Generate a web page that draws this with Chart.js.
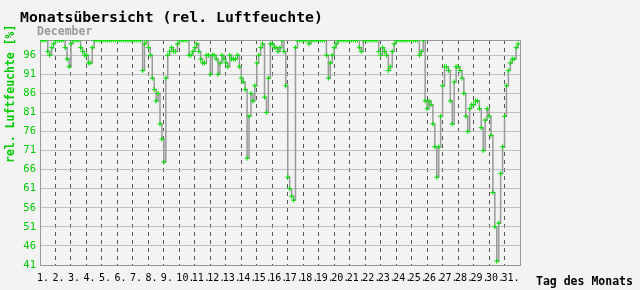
<!DOCTYPE html>
<html><head><meta charset="utf-8">
<script src="https://cdn.jsdelivr.net/npm/chart.js@4/dist/chart.umd.min.js"></script>
<style>html,body{margin:0;padding:0;background:#f3f3f3;}#wrap{width:640px;height:290px;}</style>
</head><body><div id="wrap"><canvas id="c" width="640" height="290"></canvas></div>
<script>
// ---- data ----
const titleText = 'Monatsübersicht (rel. Luftfeuchte)';
const monthName = 'December';
const yAxisTitle = 'rel. Luftfeuchte [%]';
const xAxisTitle = 'Tag des Monats';
const dayLabels = ['1.','2.','3.','4.','5.','6.','7.','8.','9.','10.','11.','12.','13.','14.','15.','16.','17.','18.','19.','20.','21.','22.','23.','24.','25.','26.','27.','28.','29.','30.','31.'];
const yTicks = [41,46,51,56,61,66,71,76,81,86,91,96];
const samplesPerDay = 8; // 3-hourly readings
const humidity = [
  100,100,100,100,97,96,98,99,     // 1
  100,100,100,100,100,98,95,93,    // 2
  99,100,100,100,100,98,97,96,     // 3
  96,94,94,98,100,100,100,100,     // 4
  100,100,100,100,100,100,100,100, // 5
  100,100,100,100,100,100,100,100, // 6
  100,100,100,100,100,92,99,100,   // 7
  98,96,90,87,84,86,78,74,         // 8
  68,90,96,97,98,97,97,99,         // 9
  100,100,100,100,100,96,96,97,    // 10
  98,99,97,95,94,94,96,96,         // 11
  91,96,96,95,91,94,96,95,         // 12
  94,93,96,95,95,95,96,93,         // 13
  90,89,87,69,80,86,84,88,         // 14
  94,96,98,99,85,81,90,99,         // 15
  99,98,98,97,98,100,97,88,        // 16
  64,61,59,58,98,100,100,100,      // 17
  100,100,100,99,100,100,100,100,  // 18
  100,100,100,100,96,90,94,96,     // 19
  98,99,100,100,100,100,100,100,   // 20
  100,100,100,100,100,98,97,100,   // 21
  100,100,100,100,100,100,100,97,  // 22
  96,98,97,96,92,93,97,99,         // 23
  100,100,100,100,100,100,100,100, // 24
  100,100,100,100,96,97,100,84,    // 25
  82,84,83,78,72,64,72,80,         // 26
  88,93,93,92,84,78,89,93,         // 27
  93,92,90,86,80,76,82,83,         // 28
  83,84,84,82,77,71,79,82,         // 29
  80,75,60,51,42,52,65,72,         // 30
  80,88,92,94,95,95,98,99          // 31
];

const points = humidity.map((v,i)=>({x:i/samplesPerDay, y:v}));
const MONO = "'DejaVu Sans Mono', 'Liberation Mono', monospace";

const deco = {
  id:'deco',
  beforeDraw(chart){
    const c=chart.ctx; c.save(); c.fillStyle='#f3f3f3'; c.fillRect(0,0,chart.width,chart.height); c.restore();
  },
  beforeDatasetsDraw(chart){
    const a=chart.chartArea, c=chart.ctx;
    c.save(); c.strokeStyle='#999'; c.lineWidth=1;
    c.strokeRect(Math.round(a.left)+0.5, Math.round(a.top)+0.5, Math.round(a.right-a.left), Math.round(a.bottom-a.top));
    c.restore();
  },
  afterDraw(chart){
    const c=chart.ctx; c.save();
    c.textBaseline='middle';
    c.fillStyle='#000'; c.font='bold 14.8px '+MONO; c.textAlign='left';
    c.fillText(titleText, 20, 18);
    c.fillStyle='#999'; c.font='bold 11.5px '+MONO;
    c.fillText(monthName, 37, 32);
    c.fillStyle='#000'; c.font='bold 11.5px '+MONO;
    c.fillText(xAxisTitle, 536, 282);
    c.translate(11, 163); c.rotate(-Math.PI/2);
    c.fillStyle='#00cc00'; c.font='bold 11.5px '+MONO; c.textAlign='left';
    c.fillText(yAxisTitle, 0, 0);
    c.restore();
  }
};

new Chart(document.getElementById('c'), {
  type:'line',
  data:{datasets:[{
    data:points,
    stepped:true,
    borderColor:'#9a9a9a',
    borderWidth:1.5,
    pointStyle:'cross',
    pointRadius:2.5,
    pointHoverRadius:2.5,
    pointBorderColor:'#00e000',
    pointBackgroundColor:'#00e000',
    pointBorderWidth:1,
    fill:false
  }]},
  options:{
    responsive:false, animation:false, devicePixelRatio:1,
    layout:{padding:{left:0, top:40, right:120, bottom:0}},
    plugins:{legend:{display:false}, tooltip:{enabled:false}, title:{display:false}},
    scales:{
      x:{type:'linear', min:0, max:31,
        afterBuildTicks(s){ s.ticks = dayLabels.map((_,i)=>({value:i})); },
        afterFit(s){ s.height = 25; },
        grid:{color:'#555', lineWidth:1, drawTicks:false, tickBorderDash:[], borderDash:[4,4]},
        border:{display:false, dash:[4,4]},
        ticks:{autoSkip:false, maxRotation:0, align:'start', labelOffset:-3, padding:7, color:'#000',
          font:{family:MONO, size:10},
          callback:(v)=>dayLabels[v]}
      },
      y:{type:'linear', min:41, max:100,
        afterBuildTicks(s){ s.ticks = yTicks.map(v=>({value:v})); },
        afterFit(s){ s.width = 40; },
        grid:{color:'#c0c0c0', lineWidth:1, drawTicks:false},
        border:{display:false},
        ticks:{padding:4, color:'#00cc00', font:{family:MONO, size:10.5}}
      }
    }
  },
  plugins:[deco]
});
</script></body></html>
